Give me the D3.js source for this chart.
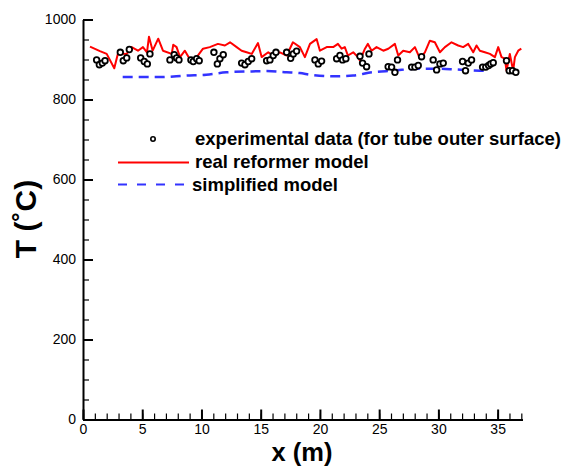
<!DOCTYPE html>
<html>
<head>
<meta charset="utf-8">
<script src="https://cdn.jsdelivr.net/npm/d3@7"></script>
<style>
body { margin: 0; background: #fff; }
text { font-family: 'Liberation Sans', Arial, sans-serif; }
</style>
</head>
<body>
<div id="chart"></div>
<script>
let width = 571
let height = 466

// real reformer model (red solid)
let realX = [0.59,1.43,2.0,2.64,2.95,3.69,4.11,4.64,5.06,5.40,5.57,5.88,6.35,6.75,7.49,7.62,7.9,8.19,8.6,9.17,9.6,10.13,10.7,11.39,11.98,12.41,12.97,13.39,13.81,14.24,14.77,15.08,15.64,16.06,16.62,17.19,17.72,18.31,18.73,19.16,19.72,20.0,20.57,21.12,21.52,21.83,22.1,22.36,22.81,23.21,23.38,23.8,24.05,24.36,24.78,25.35,25.77,26.33,26.61,27.03,27.59,28.02,28.44,28.86,29.28,29.7,30.13,30.55,31.11,31.67,32.09,32.52,32.94,33.22,33.5,33.92,34.35,34.77,35.05,35.33,35.61,35.75,36.03,36.31,36.46,36.74,37.0]
let realT = [932,921,914,878,915,914,931,922,931,918,957,922,952,922,914,937,931,906,922,893,906,927,931,939,935,943,931,922,918,914,941,906,918,910,918,910,943,931,906,939,951,922,931,931,939,927,931,910,918,906,897,927,939,922,931,922,927,939,910,922,918,931,902,918,947,943,918,931,943,935,931,939,918,935,922,918,914,906,931,906,902,872,914,872,906,922,927]

// simplified model (blue dashed)
let simX = [3.35,6.5,8.75,10.4,12.1,13.9,15.5,17.2,18.3,19.2,21.1,22.8,24.4,26.2,28.2,29.8,31.5,33.5,33.9]
let simT = [856,856,860,862,868,870,871,868,866,862,858,860,868,872,877,877,875,872,872]

// experimental data (circles)
let expX = [1.15,1.38,1.63,1.86,3.15,3.4,3.69,3.91,4.87,5.17,5.43,5.65,7.34,7.7,7.9,8.1,9.11,9.31,9.59,9.81,11.05,11.34,11.56,11.84,13.39,13.67,13.95,14.24,15.5,15.78,16.06,16.29,17.19,17.53,17.75,18.03,19.58,19.86,20.14,21.41,21.69,21.91,22.19,23.38,23.6,23.94,24.14,25.76,26.05,26.33,26.55,27.74,28.02,28.3,28.58,29.56,29.85,30.13,30.41,32.04,32.29,32.52,32.8,33.73,34.0,34.24,34.41,34.63,35.75,35.98,36.26,36.54]
let expT = [899,887,891,897,918,897,904,925,904,895,889,914,899,912,904,899,899,895,902,897,918,889,902,912,891,887,895,902,897,899,910,918,918,903,914,921,899,889,896,902,910,899,902,908,891,882,914,882,881,868,899,881,881,885,907,899,874,889,891,895,872,891,899,881,881,885,889,892,897,872,872,868]

let xMajor = [0,5,10,15,20,25,30,35]
let yMajor = [0,200,400,600,800,1000]

let legendLabels = ['experimental data (for tube outer surface)', 'real reformer model', 'simplified model']

let margins = {
	'top': 19.5,
	'right': 48.5,
	'bottom': 46.5,
	'left': 83,
}

let xScale = d3.scaleLinear()
	.domain([0,37.1])
	.range([0,width-margins.left-margins.right])

let yScale = d3.scaleLinear()
	.domain([0,1000])
	.range([height-margins.top-margins.bottom,0])

let svg = d3.select('#chart').append('svg')
	.attr('width',width)
	.attr('height',height)

let inner = svg.append('g')
	.attr('transform','translate('+margins.left+','+margins.top+')')

let plotH = height-margins.top-margins.bottom

// minor ticks
let xMinor = d3.axisBottom(xScale)
	.tickValues(d3.range(0,38,1))
	.tickSize(-6)
	.tickFormat('')
let yMinor = d3.axisLeft(yScale)
	.tickValues(d3.range(0,1001,50))
	.tickSize(-6)
	.tickFormat('')

let xAxis = d3.axisBottom(xScale)
	.tickValues(xMajor)
	.tickFormat(d3.format('d'))
	.tickSizeInner(-10)
	.tickSizeOuter(0)
	.tickPadding(5)

let yAxis = d3.axisLeft(yScale)
	.tickValues(yMajor)
	.tickFormat(d3.format('d'))
	.tickSizeInner(-10)
	.tickSizeOuter(0)
	.tickPadding(7)

let axisShell = inner.append('g')

axisShell.append('g')
	.attr('transform',`translate(0,${plotH})`)
	.call(xMinor)
	.call(g => g.select('.domain').remove())
	.selectAll('line').attr('stroke-width',1.2)

axisShell.append('g')
	.call(yMinor)
	.call(g => g.select('.domain').remove())
	.selectAll('line').attr('stroke-width',1.2)

let gx = axisShell.append('g')
	.attr('transform',`translate(0,${plotH})`)
	.call(xAxis)
gx.select('.domain').attr('stroke-width',2)
gx.selectAll('line').attr('stroke-width',2)
gx.selectAll('text').attr('font-size',14).attr('fill','#000')
	.style('font-family',"'Liberation Sans', Arial, sans-serif")

let gy = axisShell.append('g')
	.call(yAxis)
gy.select('.domain').attr('stroke-width',2)
gy.selectAll('line').attr('stroke-width',2)
gy.selectAll('text').attr('font-size',14).attr('fill','#000')
	.style('font-family',"'Liberation Sans', Arial, sans-serif")

let marks = inner.append('g')

let line = d3.line()
	.x(d => xScale(d[0]))
	.y(d => yScale(d[1]))

marks.append('path')
	.datum(d3.zip(simX,simT))
	.attr('d',d3.line().curve(d3.curveMonotoneX).x(d => xScale(d[0])).y(d => yScale(d[1])))
	.attr('fill','none')
	.attr('stroke','#3333ff')
	.attr('stroke-width',2.5)
	.attr('stroke-dasharray','10,6')

marks.append('path')
	.datum(d3.zip(realX,realT))
	.attr('d',line)
	.attr('fill','none')
	.attr('stroke','#ff0000')
	.attr('stroke-width',2)
	.attr('stroke-linejoin','round')

marks.selectAll('circle')
	.data(d3.zip(expX,expT))
	.enter().append('circle')
	.attr('cx',d => xScale(d[0]))
	.attr('cy',d => yScale(d[1]))
	.attr('r',2.8)
	.attr('fill','#fff')
	.attr('stroke','#000')
	.attr('stroke-width',1.8)

// legend
let legend = svg.append('g')
legend.append('circle')
	.attr('cx',153).attr('cy',139).attr('r',2.2)
	.attr('fill','#fff').attr('stroke','#000').attr('stroke-width',1.6)
legend.append('line')
	.attr('x1',118).attr('x2',189).attr('y1',162.5).attr('y2',162.5)
	.attr('stroke','#ff0000').attr('stroke-width',2)
legend.append('line')
	.attr('x1',118).attr('x2',189).attr('y1',184.5).attr('y2',184.5)
	.attr('stroke','#3333ff').attr('stroke-width',2)
	.attr('stroke-dasharray','9,10')

let legendPos = [[195,145],[195,168],[192,190.5]]
legend.selectAll('text.lg')
	.data(legendLabels)
	.enter().append('text')
	.attr('class','lg')
	.attr('x',(d,i) => legendPos[i][0])
	.attr('y',(d,i) => legendPos[i][1])
	.attr('font-size',18.5)
	.attr('font-weight','bold')
	.text(d => d)

// axis titles
svg.append('text')
	.attr('x',302).attr('y',460.5)
	.attr('text-anchor','middle')
	.attr('font-size',25.5)
	.attr('font-weight','bold')
	.text('x (m)')

svg.append('text')
	.attr('transform','translate(36,219) rotate(-90)')
	.attr('text-anchor','middle')
	.attr('font-size',30)
	.attr('font-weight','bold')
	.text('T (˚C)')
</script>
</body>
</html>
